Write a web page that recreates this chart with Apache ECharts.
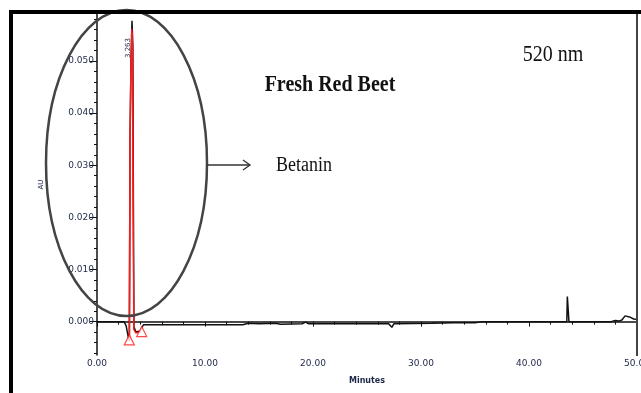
<!DOCTYPE html>
<html>
<head>
<meta charset="utf-8">
<script src="https://cdn.jsdelivr.net/npm/echarts@6/dist/echarts.min.js"></script>
<style>
  html, body { margin: 0; padding: 0; background: #fff; }
  #chart { width: 641px; height: 393px; }
</style>
</head>
<body>
<div id="chart"></div>
<script>
// chromatogram trace (black), minutes / AU
var traceTime = [0, 2.5, 2.7, 2.9, 2.99, 3.06, 3.15, 3.24, 3.32, 3.37, 3.42, 3.6, 4.0, 4.3, 6, 8, 10, 13.5, 14, 15, 16.5, 17,
  19, 19.3, 19.6, 20, 23, 27, 27.3, 27.5, 31, 33, 35, 35.7, 36, 40, 43.5, 43.55, 43.65, 43.7, 44.1, 44.3, 46, 47.6, 48,
  48.3, 48.6, 48.9, 49.3, 49.7, 50]
var traceAU = [0, 0, -0.0008, -0.0030, -0.0037, 0.0356, 0.0500, 0.0577, 0.0530, 0.0230, -0.0010, -0.0020, -0.0018, -0.0006, -0.0006, -0.0006, -0.0006, -0.0006, -0.0003, -0.0004, -0.0003, -0.0005,
  -0.0004, -0.0001, -0.0004, -0.0004, -0.0004, -0.0004, -0.0011, -0.0004, -0.0003, -0.0002, -0.0002, 0.0000, 0.0000, 0.0000, 0.0000, 0.0048, 0.0048, 0.0000, 0.0000, 0.0000, 0.0000, 0.0000, 0.0002,
  0.0001, 0.0003, 0.0011, 0.0009, 0.0005, 0.0004]
// integrated peak outline (red)
var peakTime = [2.99, 3.05, 3.14, 3.22, 3.30, 3.35, 3.40, 3.6, 4.1]
var peakAU = [-0.0037, 0.0356, 0.0500, 0.0562, 0.0527, 0.0230, -0.0015, -0.0022, -0.0019]
var peakInnerTime = [3.03, 3.09, 3.17, 3.25, 3.34, 3.42]
var peakInnerAU = [-0.0030, 0.0350, 0.0495, 0.0555, 0.0230, -0.0012]
// peak start / end markers
var markTime = [2.99, 4.14]
var markAU = [-0.0035, -0.0019]
var peakName = '3.263'

var yTicks = [0, 0.01, 0.02, 0.03, 0.04, 0.05]
var yMinor = [-0.006, -0.004, -0.002, 0.002, 0.004, 0.006, 0.008, 0.012, 0.014, 0.016, 0.018, 0.022, 0.024, 0.026, 0.028,
  0.032, 0.034, 0.036, 0.038, 0.042, 0.044, 0.046, 0.048, 0.052, 0.054, 0.056, 0.058]

function pairs(xs, ys) {
  return xs.map(function(x, i) { return [x, ys[i]] })
}

var labelFont = { fontFamily: 'DejaVu Sans', fontSize: 9, color: '#1d2748' }

var option = {
  backgroundColor: '#fff',
  animation: false,
  grid: { left: 97, right: 4, top: 14, bottom: 38, outerBoundsMode: 'none' },
  xAxis: {
    type: 'value',
    min: 0,
    max: 50,
    interval: 10,
    name: 'Minutes',
    nameLocation: 'middle',
    nameGap: 22,
    nameTextStyle: { fontFamily: 'DejaVu Sans', fontSize: 8, color: '#1d2748', fontWeight: 'bold' },
    axisLine: { lineStyle: { color: '#111', width: 1.5 } },
    axisTick: { length: 5, lineStyle: { color: '#111' } },
    minorTick: { show: true, splitNumber: 5, length: 3, lineStyle: { color: '#111' } },
    axisLabel: Object.assign({ margin: 4, formatter: function(v) { return v.toFixed(2) } }, labelFont),
    splitLine: { show: false }
  },
  yAxis: [{
    type: 'value',
    min: -0.0064,
    max: 0.059,
    name: 'AU',
    nameLocation: 'middle',
    nameGap: 52,
    nameRotate: 90,
    nameTextStyle: { fontFamily: 'DejaVu Sans', fontSize: 7, color: '#1d2748' },
    axisLine: { show: true, lineStyle: { color: '#111', width: 1.5 } },
    axisTick: { show: true, length: 7, customValues: yTicks, lineStyle: { color: '#111' } },
    axisLabel: Object.assign({ margin: 3, customValues: yTicks, formatter: function(v) { return v.toFixed(3) } }, labelFont),
    splitLine: { show: false }
  }, {
    type: 'value',
    position: 'left',
    min: -0.0064,
    max: 0.059,
    axisLine: { show: false },
    axisTick: { show: true, length: 3, customValues: yMinor, lineStyle: { color: '#111' } },
    axisLabel: { show: false },
    splitLine: { show: false }
  }],
  series: [{
    name: 'trace',
    type: 'line',
    data: pairs(traceTime, traceAU),
    symbol: 'none',
    lineStyle: { color: '#111', width: 1.5 },
    z: 2
  }, {
    name: 'peak',
    type: 'line',
    data: pairs(peakTime, peakAU),
    symbol: 'none',
    lineStyle: { color: '#ff1a1a', width: 1.3 },
    z: 3
  }, {
    name: 'peakInner',
    type: 'line',
    data: pairs(peakInnerTime, peakInnerAU),
    symbol: 'none',
    lineStyle: { color: '#ff1a1a', width: 1 },
    z: 3
  }, {
    name: 'marks',
    type: 'scatter',
    data: pairs(markTime, markAU),
    symbol: 'triangle',
    symbolSize: 10,
    itemStyle: { color: '#fff', borderColor: '#ff1a1a', borderWidth: 1.2 },
    z: 4
  }],
  graphic: [
    // outer frame
    { type: 'rect', shape: { x: 9, y: 10, width: 632, height: 4 }, style: { fill: '#000' }, z: 10 },
    { type: 'rect', shape: { x: 9, y: 10, width: 4, height: 383 }, style: { fill: '#000' }, z: 10 },
    { type: 'line', shape: { x1: 637, y1: 14, x2: 637, y2: 356 }, style: { stroke: '#444', lineWidth: 2 }, z: 10 },
    // circled peak with arrow
    { type: 'ellipse', shape: { cx: 126.5, cy: 163, rx: 80.5, ry: 153 }, style: { fill: 'none', stroke: '#444', lineWidth: 2.5 }, z: 9 },
    { type: 'polyline', shape: { points: [[207, 165], [250, 165]] }, style: { stroke: '#333', lineWidth: 1.3 }, z: 9 },
    { type: 'polyline', shape: { points: [[243, 160], [250, 165], [243, 170]] }, style: { stroke: '#333', lineWidth: 1.3, fill: 'none' }, z: 9 },
    { type: 'text', x: 304, y: 165, scaleY: 1.2, style: { text: 'Betanin', fontFamily: 'Liberation Serif', fontSize: 18, fill: '#111', align: 'center', verticalAlign: 'middle' }, z: 9 },
    { type: 'text', x: 330, y: 85, scaleY: 1.2, style: { text: 'Fresh Red Beet', fontFamily: 'Liberation Serif', fontWeight: 'bold', fontSize: 20, fill: '#111', align: 'center', verticalAlign: 'middle' }, z: 9 },
    { type: 'text', x: 553, y: 55, scaleY: 1.2, style: { text: '520 nm', fontFamily: 'Liberation Serif', fontSize: 20, fill: '#111', align: 'center', verticalAlign: 'middle' }, z: 9 },
    { type: 'text', x: 128, y: 48, rotation: Math.PI / 2, style: { text: peakName, fontFamily: 'DejaVu Sans', fontSize: 7, fill: '#1d2748', align: 'center', verticalAlign: 'middle' }, z: 9 }
  ]
}

var chart = echarts.init(document.getElementById('chart'))
chart.setOption(option)
</script>
</body>
</html>
